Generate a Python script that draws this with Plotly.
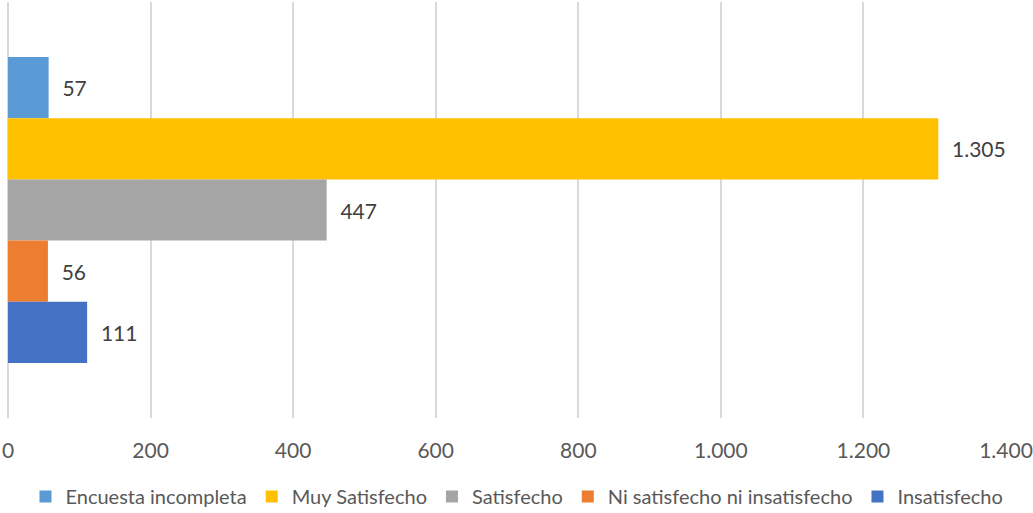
import plotly.graph_objects as go

series_names = [
    'Encuesta incompleta',
    'Muy Satisfecho',
    'Satisfecho',
    'Ni satisfecho ni insatisfecho',
    'Insatisfecho',
]
series_values = [57, 1305, 447, 56, 111]
series_colors = ['#5B9BD5', '#FFC000', '#A5A5A5', '#ED7D31', '#4472C4']

x_ticks = [0, 200, 400, 600, 800, 1000, 1200, 1400]

FONT = 'Lato, Open Sans, sans-serif'


def fmt(v):
    return f'{v:,}'.replace(',', '.')


fig = go.Figure()

for name, val, col in zip(series_names, series_values, series_colors):
    fig.add_trace(
        go.Bar(
            x=[val],
            y=[0],
            orientation='h',
            name=name,
            marker={'color': col, 'line': {'width': 0}},
            text=['\u00a0\u00a0' + fmt(val)],
            textposition='outside',
            textfont={'size': 21, 'color': '#404040', 'family': FONT},
            cliponaxis=False,
            hoverinfo='x+name',
        )
    )

fig.update_layout(
    width=1033,
    height=513,
    barmode='group',
    bargap=0.265,
    bargroupgap=0,
    plot_bgcolor='white',
    paper_bgcolor='white',
    margin={'l': 8, 'r': 27, 't': 2, 'b': 95, 'autoexpand': False},
    font={'family': FONT, 'color': '#595959', 'size': 21},
    showlegend=True,
    legend={
        'orientation': 'h',
        'x': 0.51,
        'xanchor': 'center',
        'y': -0.142,
        'yanchor': 'top',
        'font': {'size': 20, 'color': '#595959'},
        'itemwidth': 30,
    },
    xaxis={
        'range': [0, 1400],
        'tickvals': x_ticks,
        'ticktext': [fmt(t) for t in x_ticks],
        'showgrid': True,
        'gridcolor': '#D9D9D9',
        'gridwidth': 1.5,
        'zeroline': True,
        'zerolinecolor': '#D9D9D9',
        'zerolinewidth': 1.5,
        'showline': False,
        'ticks': '',
        'automargin': False,
        'ticklabelstandoff': 18,
        'tickfont': {'size': 21, 'color': '#595959'},
    },
    yaxis={
        'range': [0.5, -0.5],
        'showticklabels': False,
        'showgrid': False,
        'zeroline': False,
        'showline': False,
        'ticks': '',
    },
)

fig.write_html(
    'out.html',
    config={'displayModeBar': False},
    post_script="document.body.style.margin='0';",
)
